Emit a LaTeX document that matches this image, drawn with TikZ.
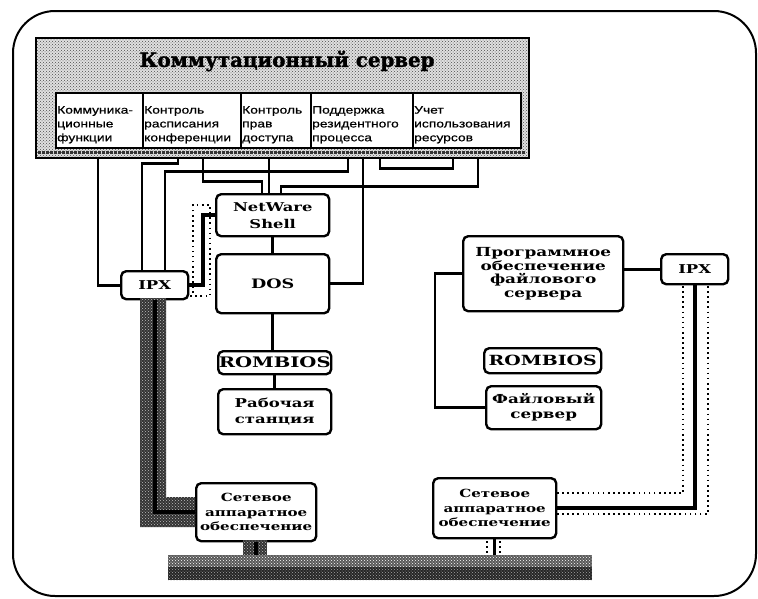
\documentclass[tikz,border=0pt]{standalone}
\usepackage{fontspec}
\setmainfont{Liberation Serif}
\newfontfamily\monoW[FakeStretch=1.35]{DejaVu Serif}
\newfontfamily\sansW[FakeStretch=1.28,FakeBold=0.6]{Liberation Sans}
\newfontfamily\titleF[FakeBold=1.5]{DejaVu Serif}
\usetikzlibrary{patterns,calc}
\begin{document}
\begin{tikzpicture}[x=1pt,y=-1pt,
  box/.style={draw, line width=2.4pt, rounded corners=5pt, fill=white, inner sep=0pt, align=center, anchor=north west},
  cell/.style={draw, line width=1.8pt, fill=white, inner sep=0pt, minimum height=55pt, anchor=north west},
  celltext/.style={inner sep=0pt, font=\sansW\fontsize{10.8}{13.8}\selectfont, align=left, anchor=north west},
  conn/.style={line width=2.8pt},
  heavy/.style={line width=4pt},
  band/.style={preaction={fill=black!80}, pattern=crosshatch dots, pattern color=black!25},
  dots/.style={line width=1.6pt, dash pattern=on 1.6pt off 3.5pt}]
\useasboundingbox (0,0) rectangle (758,598);
% outer frame
\draw[line width=2pt, rounded corners=42pt] (13,11) rectangle (756,596);

% server block
\node[draw, line width=1.8pt, minimum width=493pt, minimum height=120pt, anchor=north west, inner sep=0pt,
  preaction={fill=black!12}, pattern=crosshatch dots, pattern color=black!70] (srv) at (35,37) {};
\node[font=\titleF\bfseries\fontsize{19.8}{24}\selectfont] (title) at (287,61) {Коммутационный сервер};
\draw[line width=3pt, black!80, dash pattern=on 2.5pt off 1.5pt] (38,152.5) -- (525,152.5);
\node[cell, minimum width=87pt] (c1) at (55,92) {};
\node[cell, minimum width=98pt] (c2) at (142,92) {};
\node[cell, minimum width=70pt] (c3) at (240,92) {};
\node[cell, minimum width=102pt] (c4) at (310,92) {};
\node[cell, minimum width=108pt] (c5) at (412,92) {};
\node[celltext] (t1) at ($(c1.north west)+(2,14)$) {Коммуника-\\ционные\\функции};
\node[celltext] (t2) at ($(c2.north west)+(2,14)$) {Контроль\\расписания\\конференции};
\node[celltext] (t3) at ($(c3.north west)+(2,14)$) {Контроль\\прав\\доступа};
\node[celltext] (t4) at ($(c4.north west)+(2,14)$) {Поддержка\\резидентного\\процесса};
\node[celltext] (t5) at ($(c5.north west)+(2,14)$) {Учет\\использования\\ресурсов};

% workstation side
\node[box, minimum width=113pt, minimum height=42pt, font=\monoW\bfseries\fontsize{12.1}{17}\selectfont] (nw) at (215,193) {NetWare\\Shell};
\node[box, minimum width=113pt, minimum height=59pt, font=\monoW\bfseries\fontsize{13}{16}\selectfont] (dos) at (215,253) {DOS};
\node[box, minimum width=67pt, minimum height=28pt, font=\monoW\bfseries\fontsize{12.2}{15}\selectfont] (ipxL) at (120,270) {IPX};
\node[box, minimum width=113pt, minimum height=23pt, font=\monoW\bfseries\fontsize{14.5}{17}\selectfont] (romL) at (217,350) {ROMBIOS};
\node[box, minimum width=113pt, minimum height=45pt, font=\monoW\bfseries\fontsize{12.2}{16}\selectfont] (ws) at (217,388) {Рабочая\\станция};
\node[box, minimum width=120pt, minimum height=58pt, font=\monoW\bfseries\fontsize{11.2}{14.5}\selectfont] (netL) at (195,482) {Сетевое\\аппаратное\\обеспечение};

% file server side
\node[box, minimum width=160pt, minimum height=75pt, font=\monoW\bfseries\fontsize{12.5}{13.4}\selectfont] (prog) at (462,235) {Программное\\обеспечение\\файлового\\сервера};
\node[box, minimum width=67pt, minimum height=30pt, font=\monoW\bfseries\fontsize{12.2}{15}\selectfont] (ipxR) at (660,253) {IPX};
\node[box, minimum width=117pt, minimum height=25pt, font=\monoW\bfseries\fontsize{14}{17}\selectfont] (romR) at (483,347) {ROMBIOS};
\node[box, minimum width=115pt, minimum height=43pt, font=\monoW\bfseries\fontsize{12.4}{15}\selectfont] (fs) at (485,385) {Файловый\\сервер};
\node[box, minimum width=123pt, minimum height=60pt, font=\monoW\bfseries\fontsize{11.2}{14.5}\selectfont] (netR) at (432,477) {Сетевое\\аппаратное\\обеспечение};

% bus
\node[anchor=north west, minimum width=424pt, minimum height=25pt, inner sep=0pt] (bus) at (168,555) {};
\fill[preaction={fill=black!65}, pattern=crosshatch dots, pattern color=white] (168,555) rectangle (592,567);
\fill[preaction={fill=black!85}, pattern=crosshatch dots, pattern color=black!35] (168,567) rectangle (592,580);

% textured bands
\fill[band] (140,298) -- (140,527) -- (195,527) -- (195,497) -- (166,497) -- (166,298) -- cycle;
\fill[band] (243,540) rectangle (267,555);

% dotted shadows
\draw[dots] (193,293) -- (193,205) -- (210,205) -- (210,296) -- (188,296);
\draw[dots] (683,286) -- (683,493) -- (557,493);
\draw[dots] (708,286) -- (708,514) -- (557,514);
\draw[dots] (487,541) -- (487,553);
\draw[dots] (500,541) -- (500,553);

% connectors from server
\draw[conn] (srv.south -| 98,0) |- (ipxL.west);
\draw[conn] (srv.south -| 178,0) -- ++(0,5) -| (ipxL.north -| 142,0);
\draw[conn] (srv.south -| 348,0) -- ++(0,13) -| (ipxL.north -| 165,0);
\draw[conn] (srv.south -| 203,0) -- ++(0,23) -| (nw.north -| 262,0);
\draw[conn] (srv.south -| 269,0) -- (nw.north -| 269,0);
\draw[conn] (srv.south -| 478,0) -- ++(0,28) -| (nw.north -| 281,0);
\draw[conn] (srv.south -| 363,0) |- (dos.east);
\draw[conn] (srv.south -| 380,0) -- ++(0,10) -| (srv.south -| 453,0);

% workstation links
\draw[conn] (nw.south) -- (dos.north);
\draw[conn] (dos.south) -- (dos.south |- romL.north);
\draw[conn] (romL.south) -- (romL.south |- ws.north);
\coordinate (jog) at (203,250);
\draw[heavy] (ipxL.east) -| (jog) |- (nw.west);
\draw[heavy] (ipxL.south) |- (netL.west);
\draw[heavy] (netL.south) -- (netL.south |- bus.north);

% file server links
\draw[conn] (prog.east |- ipxR.west) -- (ipxR.west);
\draw[conn] (prog.west) -- ++(-27,0) |- (fs.west);
\draw[heavy] (ipxR.south) |- (netR.east);
\draw[conn] (netR.south) -- (netR.south |- bus.north);
\end{tikzpicture}
\end{document}
